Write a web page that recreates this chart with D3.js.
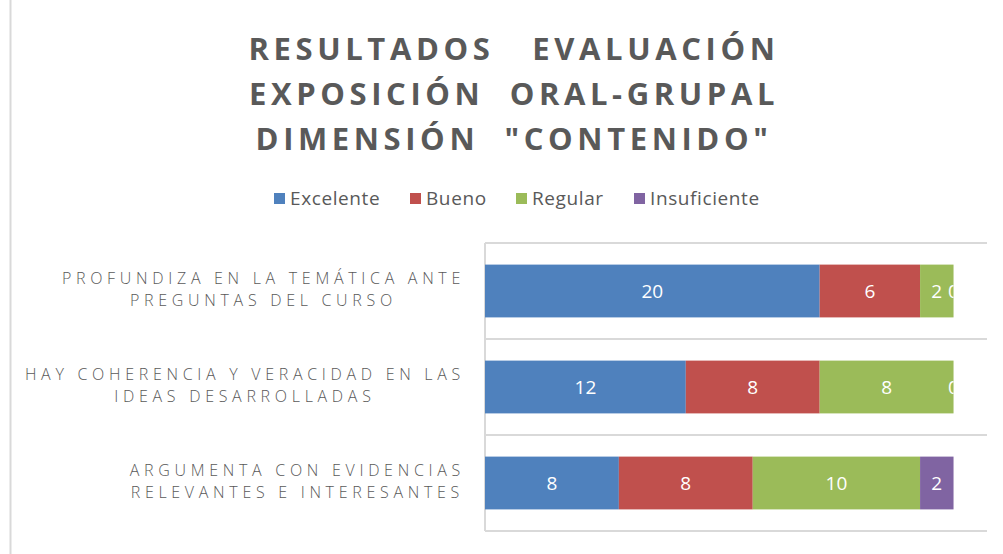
<!DOCTYPE html>
<html>
<head>
<meta charset="utf-8">
<script src="https://cdn.jsdelivr.net/npm/d3@7"></script>
<style>
  body { margin: 0; background: #fff; }
  svg { font-family: "Open Sans", "DejaVu Sans", sans-serif; }
</style>
</head>
<body>
<div id="chart"></div>
<script>
const titleLines = ["RESULTADOS   EVALUACIÓN", "EXPOSICIÓN  ORAL-GRUPAL", "DIMENSIÓN  \"CONTENIDO\""];
const categories = [
  ["PROFUNDIZA EN LA TEMÁTICA ANTE", "PREGUNTAS DEL CURSO"],
  ["HAY COHERENCIA Y VERACIDAD EN LAS", "IDEAS DESARROLLADAS"],
  ["ARGUMENTA CON EVIDENCIAS", "RELEVANTES E INTERESANTES"]
];
const seriesNames = ["Excelente", "Bueno", "Regular", "Insuficiente"];
const seriesColors = ["#4f81bd", "#c0504d", "#9bbb59", "#8064a2"];
const excelente = [20, 12, 8];
const bueno = [6, 8, 8];
const regular = [2, 8, 10];
const insuficiente = [0, 0, 2];

const width = 1003, height = 554;
const margin = { top: 243, right: 16, bottom: 23, left: 485 };

const rows = categories.map((c, i) => ({
  key: i,
  Excelente: excelente[i],
  Bueno: bueno[i],
  Regular: regular[i],
  Insuficiente: insuficiente[i]
}));

const svg = d3.select("#chart").append("svg")
  .attr("width", width)
  .attr("height", height);

// chart area border
svg.append("rect")
  .attr("x", 10.5).attr("y", -5)
  .attr("width", 1100).attr("height", 570)
  .attr("fill", "none").attr("stroke", "#d9d9d9").attr("stroke-width", 2);

// title
svg.append("g")
  .selectAll("text")
  .data(titleLines)
  .join("text")
  .attr("x", 514)
  .attr("y", (d, i) => 60 + i * 45)
  .attr("text-anchor", "middle")
  .attr("fill", "#595959")
  .style("font-size", "31px")
  .style("font-weight", "bold")
  .style("letter-spacing", "4.6px")
  .style("white-space", "pre")
  .text(d => d);

// legend
const legendX = [274, 410, 516, 634];
const legend = svg.append("g").selectAll("g")
  .data(seriesNames)
  .join("g")
  .attr("transform", (d, i) => `translate(${legendX[i]},198)`);
legend.append("rect")
  .attr("x", 0).attr("y", -5)
  .attr("width", 11).attr("height", 11)
  .attr("fill", (d, i) => seriesColors[i]);
legend.append("text")
  .attr("x", 16).attr("y", 7)
  .attr("fill", "#595959")
  .style("font-size", "19px")
  .style("letter-spacing", "0.6px")
  .text(d => d);

const x = d3.scaleLinear()
  .domain([0, 30])
  .range([margin.left, width - margin.right]);

const y = d3.scaleBand()
  .domain(rows.map(d => d.key))
  .range([margin.top, height - margin.bottom])
  .paddingInner(0.45)
  .paddingOuter(0.225);

const stack = d3.stack().keys(seriesNames);
const layers = stack(rows);

// category gridlines (at band boundaries)
const bounds = d3.range(rows.length + 1).map(i => margin.top + i * (height - margin.bottom - margin.top) / rows.length);
svg.append("g")
  .selectAll("line")
  .data(bounds)
  .join("line")
  .attr("x1", margin.left).attr("x2", width - margin.right)
  .attr("y1", d => d).attr("y2", d => d)
  .attr("stroke", "#d9d9d9").attr("stroke-width", 2);

svg.append("line")
  .attr("x1", margin.left).attr("x2", margin.left)
  .attr("y1", margin.top).attr("y2", height - margin.bottom)
  .attr("stroke", "#d9d9d9").attr("stroke-width", 2);

// bars
const barG = svg.append("g");
layers.forEach((layer, li) => {
  barG.append("g")
    .attr("fill", seriesColors[li])
    .selectAll("rect")
    .data(layer)
    .join("rect")
    .attr("x", d => x(d[0]))
    .attr("y", d => y(d.data.key))
    .attr("width", d => x(d[1]) - x(d[0]))
    .attr("height", y.bandwidth());
});

// clip labels to the end of each bar
const defs = svg.append("defs");
rows.forEach((r, i) => {
  defs.append("clipPath").attr("id", "clip" + i)
    .append("rect")
    .attr("x", margin.left)
    .attr("y", y(r.key))
    .attr("width", x(d3.sum(seriesNames, k => r[k])) - margin.left)
    .attr("height", y.bandwidth());
});

layers.forEach(layer => {
  svg.append("g")
    .selectAll("text")
    .data(layer)
    .join("text")
    .attr("clip-path", d => `url(#clip${d.data.key})`)
    .attr("x", d => (x(d[0]) + x(d[1])) / 2)
    .attr("y", d => y(d.data.key) + y.bandwidth() / 2 + 7)
    .attr("text-anchor", "middle")
    .attr("fill", "#fff")
    .style("font-size", "19px")
    .text(d => d[1] - d[0]);
});

// category labels
const labelG = svg.append("g");
categories.forEach((lines, i) => {
  const g = labelG.append("g");
  const cy = y(i) + y.bandwidth() / 2;
  const texts = g.selectAll("text")
    .data(lines)
    .join("text")
    .attr("y", (d, j) => cy - 7 + j * 22)
    .attr("text-anchor", "middle")
    .attr("fill", "#595959")
    .style("font-size", "16px")
    .style("font-weight", "300")
    .style("letter-spacing", "4.7px")
    .text(d => d);
  const maxW = d3.max(texts.nodes(), n => n.getComputedTextLength());
  texts.attr("x", 465 - maxW / 2);
});
</script>
</body>
</html>
